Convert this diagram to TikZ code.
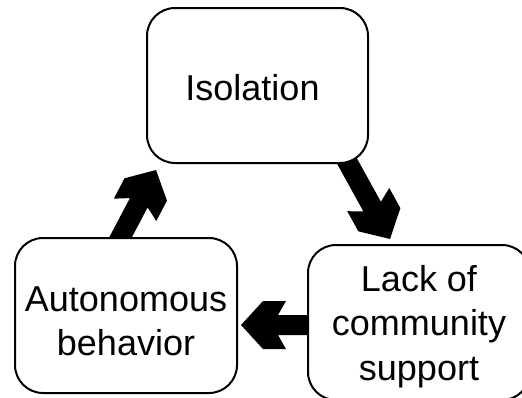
\documentclass[tikz,border=0pt]{standalone}
\usepackage{fontspec}
\setmainfont{Liberation Sans}
\usetikzlibrary{calc,backgrounds}

% Fat block arrow from #1 (tail) to #2 (tip): chevron head with short flat barbs
\newcommand\blockarrow[2]{%
  \fill[arrowfill]
    (#2)
    -- ($(#2)!22pt!(#1)!24pt!90:(#1)$)
    -- ($(#2)!45pt!(#1)!24pt!90:(#1)$)
    -- ($(#2)!37pt!(#1)!10pt!90:(#1)$)
    -- ($(#1)!10pt!-90:(#2)$)
    -- ($(#1)!10pt!90:(#2)$)
    -- ($(#2)!37pt!(#1)!10pt!-90:(#1)$)
    -- ($(#2)!45pt!(#1)!24pt!-90:(#1)$)
    -- ($(#2)!22pt!(#1)!24pt!-90:(#1)$)
    -- cycle;}

\tikzset{
  box/.style={draw=black, line width=2pt, rounded corners=28pt, fill=white,
    minimum width=222pt, minimum height=155pt, inner sep=0pt},
  boxtext/.style={align=center, inner sep=0pt,
    font=\fontsize{36}{44.5}\selectfont},
  arrowfill/.style={fill=black},
}

\begin{document}
\begin{tikzpicture}[x=1pt, y=-1pt]
  \useasboundingbox (0,0) rectangle (522,397);
  \clip (0,0) rectangle (522,397);

  \node[box, minimum width=221pt,
        label={[boxtext, xshift=-5pt, yshift=-2pt]center:Isolation}]
        (iso) at (257.5,85.5) {};
  \node[box,
        label={[boxtext, yshift=-6pt]center:{Autonomous\\behavior}}]
        (auto) at (126,315.5) {};
  \node[box,
        label={[boxtext, yshift=-4pt]center:{Lack of\\community\\support}}]
        (lack) at (419,322.5) {};

  \coordinate (t1) at ($(iso.south east)+(-27,-12)$);
  \coordinate (h1) at ($(lack.north)+(-29,-5)$);
  \coordinate (t2) at ($(lack.west)+(8,2.5)$);
  \coordinate (h2) at ($(auto.east)+(3,9.5)$);
  \coordinate (t3) at ($(auto.north)+(-10,9)$);
  \coordinate (h3) at ($(iso.south west)+(10,6)$);

  \begin{pgfonlayer}{background}
    \blockarrow{t1}{h1}
    \blockarrow{t2}{h2}
    \blockarrow{t3}{h3}
  \end{pgfonlayer}
\end{tikzpicture}
\end{document}
